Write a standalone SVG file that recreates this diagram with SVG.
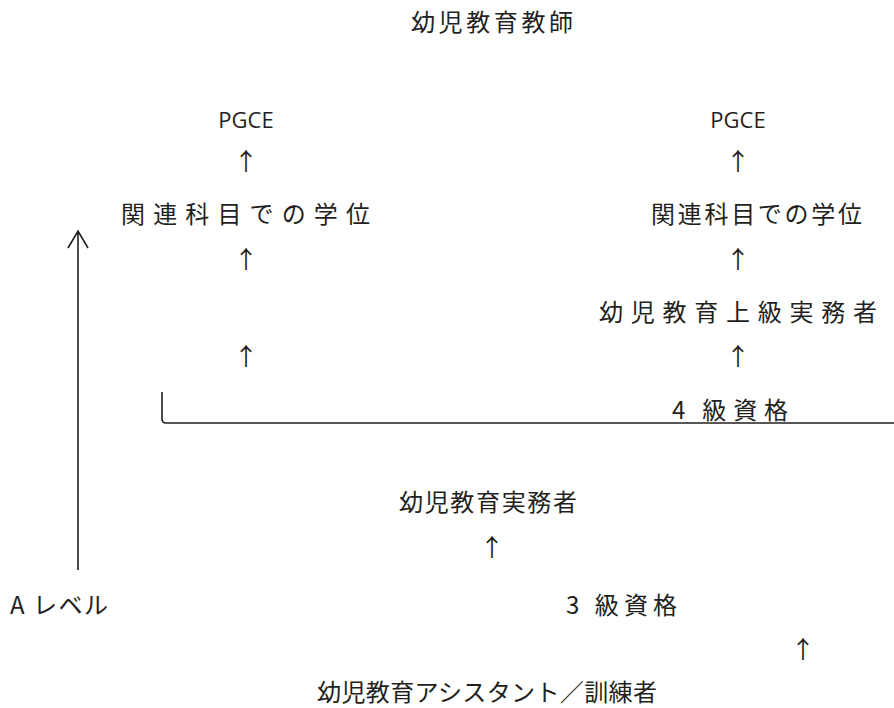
<svg xmlns="http://www.w3.org/2000/svg" width="894" height="708" viewBox="0 0 894 708">
<style>
text{font-family:"Noto Sans CJK JP","Open Sans",sans-serif;font-size:24px;fill:#231f20}
.lat{font-family:"Open Sans","Noto Sans CJK JP",sans-serif;font-size:22px}
.arr{font-size:24px;text-anchor:middle}
.ln{fill:none;stroke:#231f20;stroke-width:1.6}
</style>
<rect width="894" height="708" fill="#fff"/>
<g id="title"><text x="411" y="31" textLength="162" lengthAdjust="spacing">幼児教育教師</text></g>
<g id="pgce-left"><text class="lat" x="246" y="128" text-anchor="middle">PGCE</text></g>
<g id="pgce-right"><text class="lat" x="738" y="128" text-anchor="middle">PGCE</text></g>
<g id="degree-left"><text x="121" y="223" textLength="249" lengthAdjust="spacing">関連科目での学位</text></g>
<g id="degree-right"><text x="651" y="223" textLength="211" lengthAdjust="spacing">関連科目での学位</text></g>
<g id="senior"><text x="599" y="321" textLength="278" lengthAdjust="spacing">幼児教育上級実務者</text></g>
<g id="level4"><text x="672" y="419" textLength="116" lengthAdjust="spacing"><tspan>4</tspan><tspan dx="-2"> 級資格</tspan></text></g>
<g id="practitioner"><text x="399" y="511" textLength="178" lengthAdjust="spacing">幼児教育実務者</text></g>
<g id="alevel"><text x="10" y="614" textLength="98" lengthAdjust="spacing">A レベル</text></g>
<g id="level3"><text x="566" y="614" textLength="111" lengthAdjust="spacing">3 級資格</text></g>
<g id="assistant"><text x="317" y="701" textLength="340" lengthAdjust="spacing">幼児教育アシスタント／訓練者</text></g>
<g id="connectors">
<text class="arr" x="246" y="170">↑</text>
<text class="arr" x="738" y="170">↑</text>
<text class="arr" x="246" y="268">↑</text>
<text class="arr" x="738" y="268">↑</text>
<text class="arr" x="246" y="365">↑</text>
<text class="arr" x="738" y="365">↑</text>
<text class="arr" x="492" y="556">↑</text>
<text class="arr" x="803" y="658">↑</text>
<path class="ln" d="M162 392 V419 Q162 423 166 423 H894"/>
<path class="ln" d="M78 570 V231 M68 248 L78 231 L88 248"/>
</g>
</svg>
